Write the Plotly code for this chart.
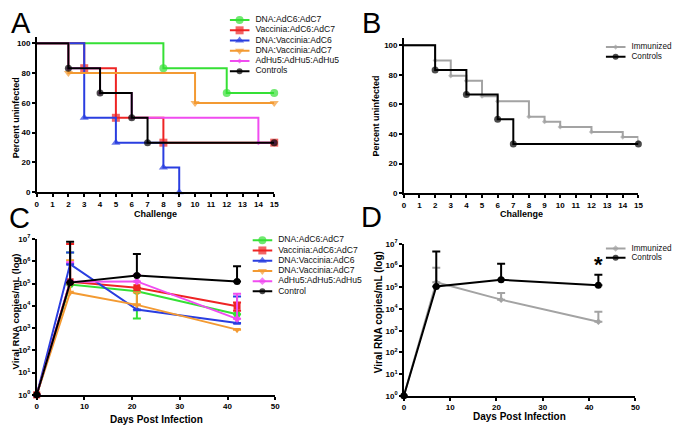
import plotly.graph_objects as go

# page has an 8px body margin; figure fills the rest of the 680x432 window
OFF = 8
W, H = 672, 424

# ---------------- Panel A data (Kaplan-Meier, percent uninfected) -------------
a_names = ["DNA:AdC6:AdC7", "Vaccinia:AdC6:AdC7", "DNA:Vaccinia:AdC6",
           "DNA:Vaccinia:AdC7", "AdHu5:AdHu5:AdHu5", "Controls"]
a_green_x = [0, 8, 12, 15]
a_green_y = [100, 83.3, 66.7, 66.7]
a_red_x = [0, 3, 5, 8, 15]
a_red_y = [100, 83.3, 50, 33.3, 33.3]
a_blue_x = [0, 3, 5, 8, 9]
a_blue_y = [100, 50, 33.3, 16.7, 0]
a_orange_x = [0, 2, 10, 15]
a_orange_y = [100, 80, 60, 60]
a_magenta_x = [0, 2, 4, 6, 14, 15]
a_magenta_y = [100, 83.3, 66.7, 50, 33.3, 33.3]
a_black_x = [0, 2, 4, 6, 7, 15]
a_black_y = [100, 83.3, 66.7, 50, 33.3, 33.3]

# ---------------- Panel B data ----------------
b_names = ["Immunized", "Controls"]
b_imm_x = [0, 2, 3, 4, 5, 6, 8, 9, 10, 12, 14, 15]
b_imm_y = [100, 89.7, 79.3, 75.9, 65.5, 62.1, 51.7, 48.3, 44.8, 41.4, 37.9, 34.5]
b_ctl_x = [0, 2, 4, 6, 7, 15]
b_ctl_y = [100, 83.3, 66.7, 50, 33.3, 33.3]

# ---------------- Panel C data (viral RNA, log) ----------------
c_names = ["DNA:AdC6:AdC7", "Vaccinia:AdC6:AdC7", "DNA:Vaccinia:AdC6",
           "DNA:Vaccinia:AdC7", "AdHu5:AdHu5:AdHu5", "Control"]
c_days = [0, 7, 21, 42]
c_green = [1, 9e4, 4.5e4, 4.2e3]
c_green_hi = [1, 2.5e6, 4.5e4, 4.2e3]
c_green_lo = [1, 9e4, 2.7e3, 4.2e3]
c_red = [1, 1.2e5, 6.5e4, 9.5e3]
c_red_hi = [1, 6e6, 2.3e5, 1.4e4]
c_red_lo = [1, 1.2e5, 6.5e4, 6e3]
c_blue = [1, 7.5e5, 6.8e3, 1.7e3]
c_blue_hi = [1, 2.5e6, 6.8e3, 2.6e4]
c_blue_lo = [1, 7.5e5, 6.8e3, 1.7e3]
c_orange = [1, 4e4, 1.1e4, 8.5e2]
c_orange_hi = [1, 1.1e6, 4e4, 8.5e2]
c_orange_lo = [1, 4e4, 1.1e4, 8.5e2]
c_magenta = [1, 1.2e5, 1.25e5, 2.6e3]
c_magenta_hi = [1, 9e5, 2.5e5, 3.5e4]
c_magenta_lo = [1, 1.2e5, 1.25e5, 2.6e3]
c_black = [1, 1.1e5, 2.3e5, 1.25e5]
c_black_hi = [1, 7.6e6, 2.1e6, 6e5]
c_black_lo = [1, 1.1e5, 2.3e5, 1.25e5]

# ---------------- Panel D data ----------------
d_names = ["Immunized", "Controls"]
d_days = [0, 7, 21, 42]
d_imm = [1, 1.7e5, 2.7e4, 2.6e3]
d_imm_hi = [1, 8e5, 5.5e4, 7.5e3]
d_ctl = [1, 1.1e5, 2.2e5, 1.25e5]
d_ctl_hi = [1, 4.5e6, 1.2e6, 3.8e5]

km_ticks = list(range(0, 16))
pct_ticks = [0, 20, 40, 60, 80, 100]
day_ticks = [0, 10, 20, 30, 40, 50]
log_ticks = [10 ** k for k in range(8)]
log_text = ["10<sup>%d</sup>" % k for k in range(8)]

# ---------------- styling ----------------
GREEN, RED, BLUE, ORANGE, MAGENTA, BLACK, GRAY = (
    "#35e035", "#ee2424", "#2a3ee0", "#f39a32", "#f04cf0", "#000000", "#a3a3a3")
FONT = "Liberation Sans, Arial, sans-serif"


def px_x(p):
    return (p - OFF) / W


def px_y(p):
    return 1 - (p - OFF) / H


fig = go.Figure()


def km_trace(x, y, color, symbol, size, axes):
    sizes = [0] + [size] * (len(x) - 1)
    fig.add_trace(go.Scatter(
        x=x, y=y, mode="lines+markers", line=dict(color=color, width=2, shape="hv"),
        marker=dict(color=color, symbol=symbol, size=sizes, line=dict(width=0)),
        xaxis=axes[0], yaxis=axes[1], showlegend=False, cliponaxis=False,
        hoverinfo="skip"))


def err_trace(x, y, hi, lo, color, symbol, size, axes, width=2):
    plus = [h - v for h, v in zip(hi, y)]
    minus = [v - l for v, l in zip(y, lo)]
    fig.add_trace(go.Scatter(
        x=x, y=y, mode="lines+markers", line=dict(color=color, width=width),
        marker=dict(color=color, symbol=symbol, size=size, line=dict(width=0)),
        error_y=dict(type="data", array=plus, arrayminus=minus, symmetric=False,
                     color=color, thickness=2, width=4),
        xaxis=axes[0], yaxis=axes[1], showlegend=False, cliponaxis=False,
        hoverinfo="skip"))


# Panel A
A = ("x", "y")
km_trace(a_green_x, a_green_y, GREEN, "circle", 8, A)
km_trace(a_red_x, a_red_y, RED, "square", 8, A)
km_trace(a_blue_x, a_blue_y, BLUE, "triangle-up", 8, A)
km_trace(a_orange_x, a_orange_y, ORANGE, "triangle-down", 8, A)
km_trace(a_magenta_x, a_magenta_y, MAGENTA, "diamond", 4, A)
km_trace(a_black_x, a_black_y, BLACK, "circle", 7, A)

# Panel B
B = ("x2", "y2")
km_trace(b_imm_x, b_imm_y, GRAY, "diamond", 4, B)
km_trace(b_ctl_x, b_ctl_y, BLACK, "circle", 7, B)

# Panel C
C = ("x3", "y3")
err_trace(c_days, c_green, c_green_hi, c_green_lo, GREEN, "circle", 7, C)
err_trace(c_days, c_red, c_red_hi, c_red_lo, RED, "square", 7, C)
err_trace(c_days, c_blue, c_blue_hi, c_blue_lo, BLUE, "triangle-up", 7, C)
err_trace(c_days, c_orange, c_orange_hi, c_orange_lo, ORANGE, "triangle-down", 7, C)
err_trace(c_days, c_magenta, c_magenta_hi, c_magenta_lo, MAGENTA, "diamond", 6, C)
err_trace(c_days, c_black, c_black_hi, c_black_lo, BLACK, "circle", 7, C)

# Panel D
D = ("x4", "y4")
err_trace(d_days, d_imm, d_imm_hi, d_imm, GRAY, "diamond", 5, D)
err_trace(d_days, d_ctl, d_ctl_hi, d_ctl, BLACK, "circle", 7, D)

# ---------------- legends (drawn on hidden helper axes, 20 px per unit) ------
annotations = []


def legend(names, colors, symbols, sizes, axes, fsize):
    for i, (nm, col, sym, sz) in enumerate(zip(names, colors, symbols, sizes)):
        fig.add_trace(go.Scatter(
            x=[0, 0.5, 1], y=[i, i, i], mode="lines+markers",
            line=dict(color=col, width=2),
            marker=dict(color=col, symbol=sym, size=[0, sz, 0], line=dict(width=0)),
            xaxis=axes[0], yaxis=axes[1], showlegend=False, cliponaxis=False,
            hoverinfo="skip"))
    fig.add_trace(go.Scatter(
        x=[1.3] * len(names), y=list(range(len(names))), mode="text",
        text=names, textposition="middle right",
        textfont=dict(family=FONT, size=fsize, color="#111"),
        xaxis=axes[0], yaxis=axes[1], showlegend=False, cliponaxis=False,
        hoverinfo="skip"))


legend(a_names, [GREEN, RED, BLUE, ORANGE, MAGENTA, BLACK],
       ["circle", "square", "triangle-up", "triangle-down", "diamond", "circle"],
       [8, 8, 8, 8, 4, 6], ("x5", "y5"), 8.6)
legend(b_names, [GRAY, BLACK], ["diamond", "circle"], [4, 6], ("x6", "y6"), 8.2)
legend(c_names, [GREEN, RED, BLUE, ORANGE, MAGENTA, BLACK],
       ["circle", "square", "triangle-up", "triangle-down", "diamond", "circle"],
       [8, 8, 8, 8, 6, 6], ("x7", "y7"), 8.6)
legend(d_names, [GRAY, BLACK], ["diamond", "circle"], [5, 6], ("x8", "y8"), 8.2)

tickfont = dict(family=FONT, size=8, color="black", weight="bold")


def axis(dom, rng, ticks, ttext=None, typ="linear"):
    d = dict(domain=dom, range=rng, type=typ, tickvals=ticks, showgrid=False,
             zeroline=False, showline=True, linecolor="black", linewidth=1.5,
             ticks="outside", ticklen=3, tickwidth=1.5, tickcolor="black",
             tickfont=tickfont, fixedrange=True)
    if ttext is not None:
        d["ticktext"] = ttext
    return d


def hidden(dom, rng):
    return dict(domain=dom, range=rng, visible=False, fixedrange=True)


layout = dict(
    width=W, height=H, margin=dict(l=0, r=0, t=0, b=0),
    paper_bgcolor="white", plot_bgcolor="rgba(0,0,0,0)", showlegend=False,
    xaxis=axis([px_x(35), px_x(275)], [0, 15], km_ticks),
    yaxis=dict(axis([px_y(191), px_y(32)], [0, 104], pct_ticks), anchor="x"),
    xaxis2=dict(axis([px_x(406), px_x(643)], [0, 15], km_ticks), anchor="y2"),
    yaxis2=dict(axis([px_y(192), px_y(33)], [0, 104.6], pct_ticks), anchor="x2"),
    xaxis3=dict(axis([px_x(35), px_x(276)], [0, 50], day_ticks), anchor="y3"),
    yaxis3=dict(axis([px_y(399), px_y(239)], [0, 7], log_ticks, log_text, "log"), anchor="x3"),
    xaxis4=dict(axis([px_x(406), px_x(640)], [0, 50], day_ticks), anchor="y4"),
    yaxis4=dict(axis([px_y(400), px_y(244)], [0, 7], log_ticks, log_text, "log"), anchor="x4"),
    xaxis5=dict(hidden([px_x(230), px_x(330)], [0, 5]), anchor="y5"),
    yaxis5=dict(hidden([px_y(72), px_y(9)], [5.5, -0.5]), anchor="x5"),
    xaxis6=dict(hidden([px_x(610), px_x(670)], [0, 3]), anchor="y6"),
    yaxis6=dict(hidden([px_y(57), px_y(37)], [1.5, -0.5]), anchor="x6"),
    xaxis7=dict(hidden([px_x(253), px_x(373)], [0, 6]), anchor="y7"),
    yaxis7=dict(hidden([px_y(298), px_y(235)], [5.5, -0.5]), anchor="x7"),
    xaxis8=dict(hidden([px_x(610), px_x(670)], [0, 3]), anchor="y8"),
    yaxis8=dict(hidden([px_y(263), px_y(244)], [1.5, -0.5]), anchor="x8"),
)

title_font = dict(family=FONT, size=9, color="black", weight="bold")
title_font2 = dict(family=FONT, size=9.5, color="black", weight="bold")
title_font3 = dict(family=FONT, size=10, color="black", weight="bold")
letter_font = dict(family=FONT, size=29, color="black")


def ann(text, x, y, font, angle=0, xa="center", ya="middle"):
    annotations.append(dict(text=text, x=px_x(x), y=px_y(y), xref="paper", yref="paper",
                            showarrow=False, textangle=angle, font=font, borderpad=0,
                            xanchor=xa, yanchor=ya))


ann("A", 19, 17, letter_font)
ann("B", 373, 17, letter_font)
ann("C", 18, 217, letter_font)
ann("D", 373, 216, letter_font)
ann("Percent uninfected", 14, 114, title_font, -90)
ann("Challenge", 155, 213, title_font)
ann("Percent uninfected", 378, 113, title_font, -90)
ann("Challenge", 525, 213, title_font)
ann("Viral RNA copies/mL (log)", 13.5, 313, title_font2, -90)
ann("Days Post Infection", 156, 424, title_font3)
ann("Viral RNA copies/mL (log)", 380, 314, title_font3, -90)
ann("Days Post Infection", 523, 421, title_font3)
# significance marker in panel D
annotations.append(dict(text="<b>*</b>", x=42, y=6.05, xref="x4", yref="y4",
                        showarrow=False, font=dict(family=FONT, size=22, color="black"),
                        xanchor="center", yanchor="middle"))

layout["annotations"] = annotations
fig.update_layout(**layout)
fig.write_html("out.html")
